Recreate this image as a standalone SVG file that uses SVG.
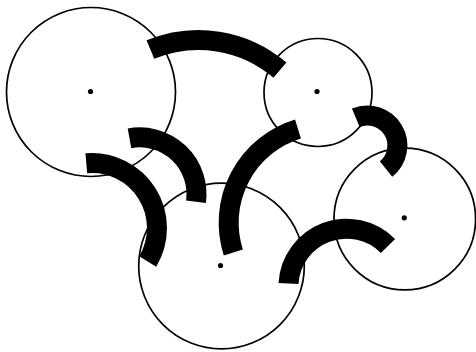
<svg xmlns="http://www.w3.org/2000/svg" width="476" height="352" viewBox="0 0 476 352">
<style>
.node{fill:none;stroke:#000;stroke-width:1.7}
.dot{fill:#000;stroke:none}
.link{fill:none;stroke:#000;stroke-width:20;stroke-linecap:butt}
</style>
<rect width="476" height="352" fill="#fff"/>
<g id="node-a"><circle class="node" cx="91" cy="92" r="84.5"/><circle class="dot" cx="90.5" cy="91.5" r="2.6"/></g>
<g id="node-b"><circle class="node" cx="318" cy="92.5" r="54"/><circle class="dot" cx="317" cy="91.5" r="2.6"/></g>
<g id="node-c"><circle class="node" cx="221.5" cy="266" r="82.8"/><circle class="dot" cx="220.5" cy="265.5" r="2.6"/></g>
<g id="node-d"><circle class="node" cx="404.8" cy="219" r="70.8"/><circle class="dot" cx="404.3" cy="217.8" r="2.6"/></g>
<g id="connectors">
<path class="link" d="M150.4 49.6 A125 125 0 0 1 279.9 70.1"/>
<path class="link" d="M86.3 163.3 A65 65 0 0 1 147.7 261.5"/>
<path class="link" d="M129.5 138.3 A56.8 56.8 0 0 1 196 201.7"/>
<path class="link" d="M298 129 A98 98 0 0 0 233.3 252.5"/>
<path class="link" d="M355.8 117.8 A30 30 0 0 1 386 169"/>
<path class="link" d="M288.5 283.5 A58.2 58.2 0 0 1 388 246"/>
</g>
</svg>
